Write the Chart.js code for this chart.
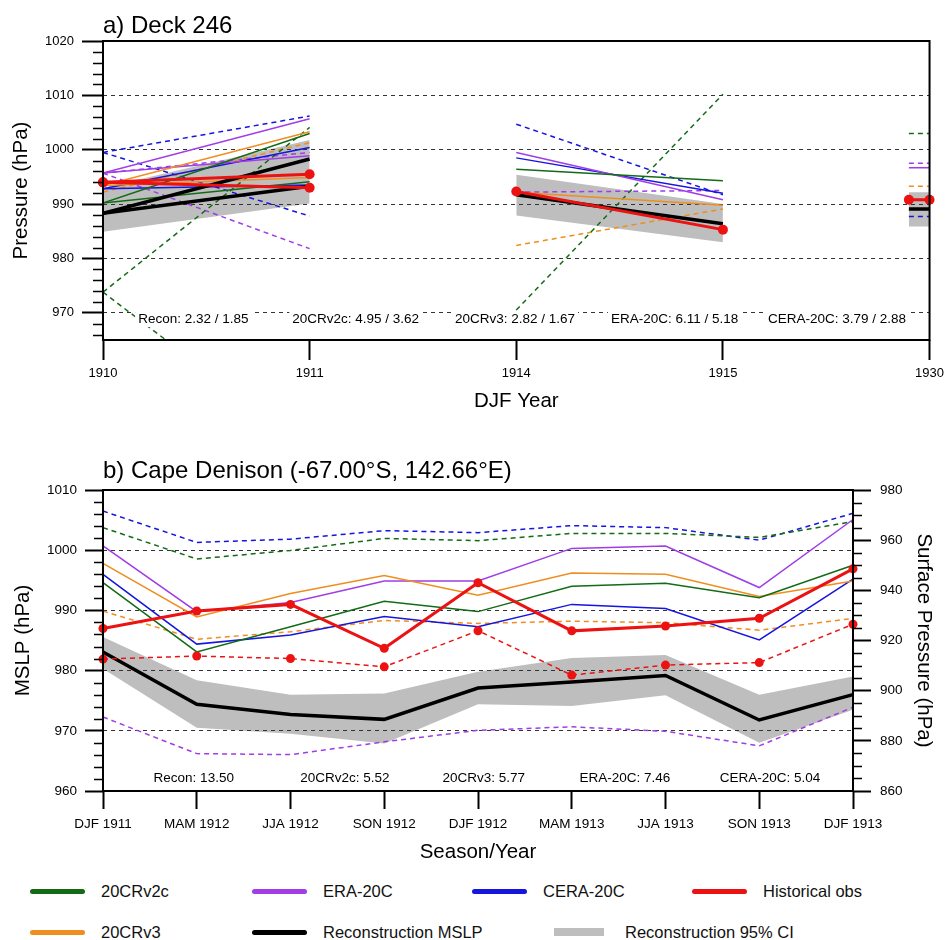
<!DOCTYPE html>
<html>
<head>
<meta charset="utf-8">
<title>Deck 246 / Cape Denison pressure</title>
<script src="https://cdn.jsdelivr.net/npm/chart.js@4.4.0/dist/chart.umd.min.js"></script>
<style>
  body { margin: 0; background: #fff; font-family: "Liberation Sans", Arial, sans-serif; }
  #page { position: relative; width: 950px; height: 940px; overflow: hidden; background: #fff; }
  .panel { position: absolute; left: 0; }
  .key { position: absolute; height: 20px; line-height: 20px; font-size: 16.5px; color: #111; white-space: nowrap; }
  .swatch { position: absolute; }
</style>
</head>
<body>
<div id="page">
  <canvas id="deckChart" class="panel" style="top:0" width="950" height="440"></canvas>
  <canvas id="capeChart" class="panel" style="top:440px" width="950" height="440"></canvas>
  <div id="legend"></div>
</div>
<script>
// ---- a) Deck 246: DJF values, slots 1910, 1911, (gap), 1914, 1915, (gap), 1930 ----
var deckTicks = ['1910', '1911', '1914', '1915', '1930'];
var deckSlots = [0, 1, 1.5, 2, 3, 3.5, 3.9, 4];

var deckObsA    = [994.0, 995.5, null, 992.3, 985.3, null, 990.8, 990.8];
var deckObsB    = [994.0, 993.0];
var deckReconA  = [988.3, 998.3, null, 991.7, 986.4, null, 989.1, 989.1];
var deckReconB  = [988.3, 993.3];
var deckCiHigh  = [993.0, 1001.8, null, 995.4, 990.0, null, 992.2, 992.2];
var deckCiLow   = [984.9, 990.1, null, 987.9, 983.0, null, 985.9, 985.9];
var deckV2cA    = [990.2, 1003.0, null, 996.4, 994.3];
var deckV2cB    = [990.2, 994.1];
var deckV2cSpA  = [973.8, 1004.1, null, 970.5, 1010.2, null, 1003.0, 1003.0];
var deckV2cSpB  = [973.8, 944.9];
var deckV3A     = [993.4, 1003.3, null, 992.2, 989.8, null, 990.8, 990.8];
var deckV3B     = [993.4, 994.9];
var deckV3Sp    = [992.2, 1001.3, null, 982.4, 989.1, null, 993.3, 993.3];
var deckEraA    = [995.7, 1005.7, null, 999.5, 990.8, null, 996.7, 996.7];
var deckEraB    = [995.7, 998.9];
var deckEraSpA  = [995.7, 999.5, null, 992.2, 992.5, null, 997.5, 997.5];
var deckEraSpB  = [995.7, 981.8];
var deckCeraA   = [992.8, 1000.4, null, 998.5, 992.0];
var deckCeraB   = [992.8, 993.5];
var deckCeraSpA = [999.5, 1006.2, null, 1004.7, 991.7, null, 987.7, 987.7];
var deckCeraSpB = [999.5, 987.8];
var deckScores  = ['Recon: 2.32 / 1.85', '20CRv2c: 4.95 / 3.62', '20CRv3: 2.82 / 1.67',
                   'ERA-20C: 6.11 / 5.18', 'CERA-20C: 3.79 / 2.88'];

// ---- b) Cape Denison: seasonal MSLP (left axis) and surface pressure (right axis) ----
var seasons = ['DJF 1911', 'MAM 1912', 'JJA 1912', 'SON 1912', 'DJF 1912',
               'MAM 1913', 'JJA 1913', 'SON 1913', 'DJF 1913'];
var obsMslp   = [987.0, 989.9, 991.0, 983.7, 994.6, 986.6, 987.4, 988.7, 996.9];
var reconMslp = [983.1, 974.4, 972.7, 971.9, 977.1, 978.1, 979.2, 971.8, 976.0];
var ciHigh    = [985.6, 978.4, 976.0, 976.2, 979.8, 982.1, 982.6, 976.0, 979.0];
var ciLow     = [980.3, 970.5, 969.5, 967.9, 974.4, 974.1, 975.9, 968.0, 973.5];
var v2cMslp   = [994.6, 983.1, 987.3, 991.5, 989.8, 994.0, 994.5, 992.1, 997.5];
var v3Mslp    = [997.8, 988.9, 992.8, 995.8, 992.5, 996.2, 996.0, 992.3, 994.9];
var eraMslp   = [1000.7, 989.8, 991.3, 994.9, 994.9, 1000.3, 1000.7, 993.8, 1005.1];
var ceraMslp  = [996.0, 984.4, 985.9, 989.0, 987.3, 991.0, 990.3, 985.1, 995.2];
var obsSp     = [912.6, 913.8, 912.8, 909.5, 923.9, 906.2, 910.2, 911.2, 926.5];
var v2cSp     = [965.0, 952.5, 955.9, 960.7, 959.8, 962.7, 962.7, 961.1, 967.4];
var v3Sp      = [931.7, 920.5, 923.5, 928.0, 926.8, 927.7, 927.1, 924.1, 928.8];
var eraSp     = [889.5, 874.9, 874.5, 879.6, 884.2, 885.6, 883.8, 878.0, 893.4];
var ceraSp    = [971.6, 959.1, 960.4, 963.8, 963.0, 965.8, 965.0, 960.0, 970.7];
var capeScores = ['Recon: 13.50', '20CRv2c: 5.52', '20CRv3: 5.77', 'ERA-20C: 7.46', 'CERA-20C: 5.04'];

var colors = {
  v2c: '#136b16', v3: '#f08d1f', era: '#a03de6', cera: '#1515df',
  obs: '#ec1212', recon: '#000000', ci: '#bebebe'
};
var DASH = [5, 4];
var FONT = '"Liberation Sans", Arial, sans-serif';

Chart.defaults.font.family = FONT;
Chart.defaults.color = '#000';

// frame, minor ticks, panel title and score labels
var framePlugin = {
  id: 'frame',
  afterDraw: function (chart, args, opts) {
    var ctx = chart.ctx, area = chart.chartArea;
    ctx.save();
    ctx.strokeStyle = '#000';
    ctx.lineWidth = 1.5;
    opts.minor.forEach(function (m) {
      var scale = chart.scales[m.axis];
      var left = scale.position === 'left';
      var x0 = left ? area.left : area.right;
      ctx.beginPath();
      for (var v = Math.ceil(scale.min / m.step) * m.step; v <= scale.max; v += m.step) {
        if (v % m.major === 0) continue;
        var y = Math.round(scale.getPixelForValue(v)) + 0.5;
        ctx.moveTo(x0, y);
        ctx.lineTo(left ? x0 - m.length : x0 + m.length, y);
      }
      ctx.stroke();
    });

    ctx.lineWidth = 2;
    ctx.strokeRect(area.left, area.top, area.right - area.left, area.bottom - area.top);

    ctx.fillStyle = '#000';
    ctx.font = '24px ' + FONT;
    ctx.textAlign = 'left';
    ctx.textBaseline = 'alphabetic';
    ctx.fillText(opts.title, area.left, opts.titleBaseline);

    ctx.font = '13.5px ' + FONT;
    ctx.textAlign = 'center';
    ctx.textBaseline = 'middle';
    var xs = chart.scales.x, ys = chart.scales.y;
    opts.scores.forEach(function (text, i) {
      var px = xs.getPixelForValue(opts.scoreAt[i]);
      var py = ys.getPixelForValue(opts.scoreY);
      var w = ctx.measureText(text).width;
      ctx.fillStyle = '#fff';
      ctx.fillRect(px - w / 2 - 3, py - 8, w + 6, 16);
      ctx.fillStyle = '#000';
      ctx.fillText(text, px, py);
    });
    ctx.restore();
  }
};

function deckLine(values, color, width, dash) {
  return {
    data: deckSlots.map(function (x, i) {
      return { x: x, y: values[i] === undefined ? null : values[i] };
    }),
    borderColor: color,
    borderWidth: width,
    borderDash: dash || [],
    pointRadius: 0,
    fill: false
  };
}

function capeLine(values, color, width, dash, axis) {
  return {
    data: values,
    yAxisID: axis,
    borderColor: color,
    borderWidth: width,
    borderDash: dash || [],
    pointRadius: 0,
    fill: false
  };
}

function markers(ds, r) {
  ds.pointRadius = r;
  ds.pointBackgroundColor = colors.obs;
  ds.pointBorderColor = colors.obs;
  ds.pointBorderWidth = 0;
  ds.clip = false;
  return ds;
}

function band(high, low, lineFn) {
  var top = lineFn(high, 'rgba(0,0,0,0)', 0);
  top.fill = '+1';
  top.backgroundColor = colors.ci;
  var bottom = lineFn(low, 'rgba(0,0,0,0)', 0);
  return [top, bottom];
}

function yTicks(size) {
  return { stepSize: 10, includeBounds: false, padding: 8, font: { size: size },
           callback: function (v) { return String(v); } };
}

// ---- chart a ----
var deckSets = [
  markers(deckLine(deckObsA, colors.obs, 3), 5),
  markers(deckLine(deckObsB, colors.obs, 3), 5),
  deckLine(deckReconA, colors.recon, 3.5),
  deckLine(deckReconB, colors.recon, 3.5),
  deckLine(deckV2cA, colors.v2c, 1.5),
  deckLine(deckV2cB, colors.v2c, 1.5),
  deckLine(deckV3A, colors.v3, 1.5),
  deckLine(deckV3B, colors.v3, 1.5),
  deckLine(deckEraA, colors.era, 1.5),
  deckLine(deckEraB, colors.era, 1.5),
  deckLine(deckCeraA, colors.cera, 1.5),
  deckLine(deckCeraB, colors.cera, 1.5),
  deckLine(deckV2cSpA, colors.v2c, 1.5, DASH),
  deckLine(deckV2cSpB, colors.v2c, 1.5, DASH),
  deckLine(deckV3Sp, colors.v3, 1.5, DASH),
  deckLine(deckEraSpA, colors.era, 1.5, DASH),
  deckLine(deckEraSpB, colors.era, 1.5, DASH),
  deckLine(deckCeraSpA, colors.cera, 1.5, DASH),
  deckLine(deckCeraSpB, colors.cera, 1.5, DASH)
].concat(band(deckCiHigh, deckCiLow, deckLine));

new Chart(document.getElementById('deckChart'), {
  type: 'line',
  data: { datasets: deckSets },
  plugins: [framePlugin],
  options: {
    responsive: false,
    animation: false,
    events: [],
    layout: { padding: { top: 41, right: 17, left: 0, bottom: 0 } },
    scales: {
      x: {
        type: 'linear', min: 0, max: 4,
        afterFit: function (s) { s.height = 100; },
        grid: { drawOnChartArea: false, tickLength: 20, tickWidth: 2, tickColor: '#000' },
        border: { display: false },
        ticks: { stepSize: 1, padding: 6, font: { size: 13 }, maxRotation: 0, autoSkip: false,
                 callback: function (v) { return deckTicks[v]; } },
        title: { display: true, text: 'DJF Year', font: { size: 20.5 }, padding: { top: 0, bottom: 26 } }
      },
      y: {
        min: 965, max: 1020,
        afterFit: function (s) { s.width = 103; },
        grid: { color: '#333', lineWidth: 1, tickLength: 21, tickWidth: 2, tickColor: '#000', tickBorderDash: [] },
        border: { display: false, dash: [4, 4] },
        ticks: yTicks(13),
        title: { display: true, text: 'Pressure (hPa)', font: { size: 20.5 }, padding: { top: 9, bottom: 0 } }
      }
    },
    plugins: {
      legend: { display: false },
      tooltip: { enabled: false },
      filler: { drawTime: 'beforeDraw' },
      frame: {
        title: 'a) Deck 246', titleBaseline: 33,
        minor: [{ axis: 'y', step: 2, major: 10, length: 10 }],
        scores: deckScores, scoreAt: [0.437, 1.223, 1.994, 2.766, 3.552], scoreY: 968.85
      }
    }
  }
});

// ---- chart b ----
var capeSets = [
  markers(capeLine(obsMslp, colors.obs, 3, null, 'y'), 4.5),
  markers(capeLine(obsSp, colors.obs, 1.5, DASH, 'y2'), 4.5),
  capeLine(reconMslp, colors.recon, 3.5, null, 'y'),
  capeLine(v2cMslp, colors.v2c, 1.5, null, 'y'),
  capeLine(v3Mslp, colors.v3, 1.5, null, 'y'),
  capeLine(eraMslp, colors.era, 1.5, null, 'y'),
  capeLine(ceraMslp, colors.cera, 1.5, null, 'y'),
  capeLine(v2cSp, colors.v2c, 1.5, DASH, 'y2'),
  capeLine(v3Sp, colors.v3, 1.5, DASH, 'y2'),
  capeLine(eraSp, colors.era, 1.5, DASH, 'y2'),
  capeLine(ceraSp, colors.cera, 1.5, DASH, 'y2')
].concat(band(ciHigh, ciLow, function (v, c, w) { return capeLine(v, c, w, null, 'y'); }));

new Chart(document.getElementById('capeChart'), {
  type: 'line',
  data: { labels: seasons, datasets: capeSets },
  plugins: [framePlugin],
  options: {
    responsive: false,
    animation: false,
    events: [],
    layout: { padding: { top: 50, right: 0, left: 0, bottom: 0 } },
    scales: {
      x: {
        type: 'category',
        afterFit: function (s) { s.height = 89; },
        grid: { drawOnChartArea: false, tickLength: 18, tickWidth: 2, tickColor: '#000' },
        border: { display: false },
        ticks: { padding: 7, font: { size: 13.5 }, maxRotation: 0, autoSkip: false },
        title: { display: true, text: 'Season/Year', font: { size: 20.5 }, padding: { top: 0, bottom: 15 } }
      },
      y: {
        position: 'left', min: 960, max: 1010,
        afterFit: function (s) { s.width = 103; },
        grid: { color: '#333', lineWidth: 1, tickLength: 18, tickWidth: 2, tickColor: '#000', tickBorderDash: [] },
        border: { display: false, dash: [4, 4] },
        ticks: yTicks(13.5),
        title: { display: true, text: 'MSLP (hPa)', font: { size: 20.5 }, padding: { top: 11, bottom: 0 } }
      },
      y2: {
        position: 'right', min: 860, max: 980,
        afterFit: function (s) { s.width = 97; },
        grid: { drawOnChartArea: false, tickLength: 18, tickWidth: 2, tickColor: '#000' },
        border: { display: false },
        ticks: { stepSize: 20, padding: 9, font: { size: 13.5 },
                 callback: function (v) { return String(v); } },
        title: { display: true, text: 'Surface Pressure (hPa)', font: { size: 20.5 }, padding: { top: 14, bottom: 0 } }
      }
    },
    plugins: {
      legend: { display: false },
      tooltip: { enabled: false },
      filler: { drawTime: 'beforeDraw' },
      frame: {
        title: 'b) Cape Denison (-67.00\u00b0S, 142.66\u00b0E)', titleBaseline: 38,
        minor: [{ axis: 'y', step: 2, major: 10, length: 9 },
                { axis: 'y2', step: 5, major: 20, length: 9 }],
        scores: capeScores, scoreAt: [0.968, 2.579, 4.062, 5.566, 7.114], scoreY: 962.06
      }
    }
  }
});

// ---- shared legend ----
var legendRows = [
  { y: 891, items: [['20CRv2c', colors.v2c, 30], ['ERA-20C', colors.era, 252],
                    ['CERA-20C', colors.cera, 472], ['Historical obs', colors.obs, 692]] },
  { y: 932, items: [['20CRv3', colors.v3, 30], ['Reconstruction MSLP', colors.recon, 252],
                    ['Reconstruction 95% CI', colors.ci, 554]] }
];
var legend = document.getElementById('legend');
legendRows.forEach(function (row) {
  row.items.forEach(function (item) {
    var isCi = item[0].indexOf('CI') > -1;
    var sw = document.createElement('div');
    sw.className = 'swatch';
    sw.style.left = item[2] + 'px';
    sw.style.top = (row.y - (isCi ? 4 : 2.5)) + 'px';
    sw.style.width = (isCi ? 50 : 55) + 'px';
    sw.style.height = (isCi ? 8 : 5) + 'px';
    sw.style.borderRadius = isCi ? '0' : '3px';
    sw.style.background = item[1];
    legend.appendChild(sw);
    var key = document.createElement('div');
    key.className = 'key';
    key.style.left = (item[2] + 71) + 'px';
    key.style.top = (row.y - 10) + 'px';
    key.textContent = item[0];
    legend.appendChild(key);
  });
});
</script>
</body>
</html>
